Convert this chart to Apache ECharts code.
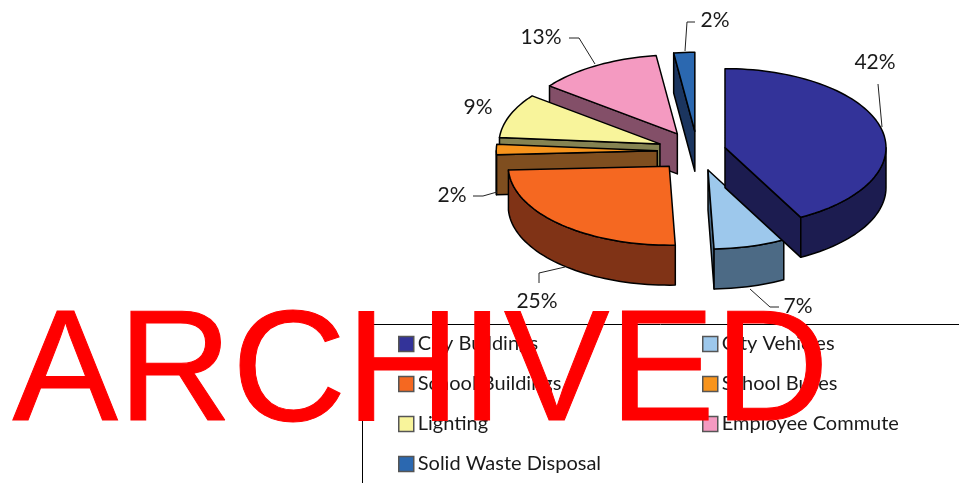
<!DOCTYPE html>
<html lang="en">
<head>
  <meta charset="UTF-8">
  <title>Emissions by sector</title>
  <script src="https://cdn.jsdelivr.net/npm/echarts@6/dist/echarts.min.js"></script>
  <style>
    html, body { margin: 0; padding: 0; background: #fff; }
    #app { width: 959px; height: 483px; }
  </style>
</head>
<body>
  <div id="app"></div>
  <script>
    var categories = ['City Buildings', 'City Vehicles', 'School Buildings', 'School Buses', 'Lighting', 'Employee Commute', 'Solid Waste Disposal']
    // the labels show them rounded
    var values = [42.2, 7.2, 24.8, 2.1, 9.1, 12.5, 2.1]

    // slice look, not data
    var topColors = ['#333399', '#9dc8ec', '#f56821', '#f7941d', '#f8f49b', '#f49ac1', '#2b68b0']
    var wallColors = ['#1c1c50', '#4c6a85', '#803316', '#7f4e1f', '#858352', '#834f68', '#1b355f']
    var explode = [0.176, 0.25, 0.26, 0.25, 0.25, 0.25, 0.25]
    var pie = { cx: 697.5, cy: 151, rx: 161, ry: 79, depth: 40 }

    // label centres and leader lines
    var labelPos = [[875, 62], [798, 306], [537, 301], [452, 195], [478, 107], [541, 37], [715, 20]]
    var leaders = [
      [[878, 84], [882, 127]],
      [[750, 289], [770, 307], [779, 307]],
      [[565, 267], [539, 273], [539, 283]],
      [[473, 196], [483, 196], [497, 192]],
      null,
      [[569, 38], [579, 38], [595, 64]],
      [[695, 22], [687, 22], [685, 51]]
    ]

    var app = document.querySelector('#app')
    var mCharts = echarts.init(app)

    var total = values.reduce(function (a, b) { return a + b }, 0)
    var starts = []
    var run = 0
    values.forEach(function (v) {
      starts.push(run / total * 360)
      run += v
    })

    function rad(d) { return d * Math.PI / 180 }

    // angle in degrees, clockwise from 12 o'clock
    function rimPoint(c, deg, drop) {
      return [c[0] + pie.rx * Math.sin(rad(deg)), c[1] - pie.ry * Math.cos(rad(deg)) + (drop || 0)]
    }

    function arc(c, from, to, drop) {
      var pts = []
      var n = Math.max(2, Math.ceil((to - from) / 2))
      for (var k = 0; k <= n; k++) pts.push(rimPoint(c, from + (to - from) * k / n, drop))
      return pts
    }

    function face(points, fill) {
      return {
        type: 'polygon',
        shape: { points: points },
        style: { fill: fill, stroke: '#000', lineWidth: 1.5, lineJoin: 'round' }
      }
    }

    function sliceItem(i) {
      return function (params, api) {
        var v = api.value(0)
        var s = starts[i]
        var e = s + v / total * 360
        var mid = (s + e) / 2
        var c = [
          pie.cx + explode[i] * pie.rx * Math.sin(rad(mid)),
          pie.cy - explode[i] * pie.ry * Math.cos(rad(mid))
        ]
        var d = pie.depth
        var below = [c[0], c[1] + d]
        var kids = []

        // radial walls that face the viewer
        if (Math.sin(rad(s)) < -1e-6) {
          kids.push(face([c, rimPoint(c, s), rimPoint(c, s, d), below], wallColors[i]))
        }
        if (Math.sin(rad(e)) > 1e-6) {
          kids.push(face([c, rimPoint(c, e), rimPoint(c, e, d), below], wallColors[i]))
        }
        // outer wall, front half only
        var a = Math.max(s, 90)
        var b = Math.min(e, 270)
        if (b > a) {
          kids.push(face(arc(c, a, b, 0).concat(arc(c, a, b, d).reverse()), wallColors[i]))
        }
        // top
        kids.push(face([c].concat(arc(c, s, e, 0)), topColors[i]))

        if (leaders[i]) {
          kids.push({
            type: 'polyline',
            shape: { points: leaders[i] },
            style: { fill: 'none', stroke: '#222', lineWidth: 1 }
          })
        }
        kids.push({
          type: 'text',
          style: {
            text: Math.round(v) + '%',
            x: labelPos[i][0],
            y: labelPos[i][1],
            align: 'center',
            verticalAlign: 'middle',
            fill: '#1a1a1a',
            font: '21px Lato'
          }
        })
        return { type: 'group', children: kids }
      }
    }

    var series = categories.map(function (name, i) {
      return {
        type: 'custom',
        name: name,
        coordinateSystem: 'none',
        renderItem: sliceItem(i),
        data: [[values[i]]],
        itemStyle: { color: topColors[i] },
        silent: true,
        z: 2 + (categories.length - i)
      }
    })

    function legendColumn(left, names) {
      return {
        orient: 'vertical',
        left: left,
        top: 334,
        padding: 0,
        itemWidth: 15,
        itemHeight: 15,
        itemGap: 20,
        icon: 'rect',
        selectedMode: false,
        data: names,
        itemStyle: { borderColor: '#555', borderWidth: 1.5 },
        textStyle: { fontFamily: 'Lato', fontSize: 20, color: '#1a1a1a', padding: [0, 0, 0, -1], lineHeight: 18, height: 18 }
      }
    }

    var option = {
      animation: false,
      backgroundColor: '#fff',
      legend: [
        legendColumn(398, [categories[0], categories[2], categories[4], categories[6]]),
        legendColumn(702, [categories[1], categories[3], categories[5]])
      ],
      graphic: [
        { type: 'line', z: 1, shape: { x1: 362, y1: 324.5, x2: 959, y2: 324.5 }, style: { stroke: '#000', lineWidth: 1 } },
        { type: 'line', z: 1, shape: { x1: 362.5, y1: 324, x2: 362.5, y2: 483 }, style: { stroke: '#000', lineWidth: 1 } },
        {
          type: 'text',
          z: 100,
          left: 12,
          top: 297,
          style: { text: 'ARCHIVED', fill: '#ff0000', stroke: '#ff0000', lineWidth: 1, font: '158px "Liberation Sans"' }
        }
      ],
      series: series
    }
    mCharts.setOption(option)
  </script>
</body>
</html>
